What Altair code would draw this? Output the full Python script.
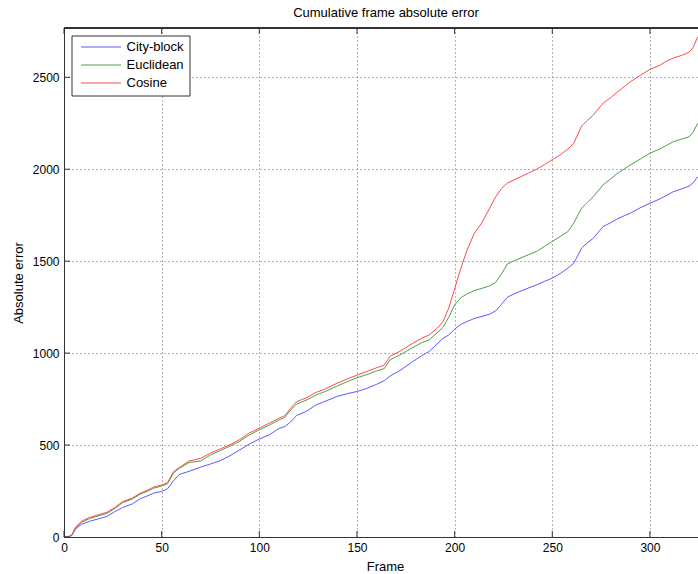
import altair as alt
import pandas as pd

# Frame indices at which the cumulative errors were sampled
frames = [0, 2, 4, 6, 9, 13, 18, 22, 26, 30, 35, 39, 43, 46, 50, 53, 56, 59, 64, 70,
          75, 80, 85, 90, 95, 100, 105, 110, 113, 116, 119, 124, 129, 133, 140, 146, 150,
          155, 160, 164, 167, 172, 178, 183, 187, 191, 194, 197, 200, 203, 206, 210, 214,
          218, 221, 224, 227, 230, 234, 238, 242, 246, 250, 254, 258, 261, 265, 268, 271,
          276, 280, 283, 287, 290, 295, 300, 305, 308, 312, 316, 320, 322, 324.5]

city_block = [0, 0, 8, 45, 70, 85, 100, 112, 138, 160, 180, 208, 225, 239, 248, 262, 305, 340,
              357, 380, 397, 415, 442, 474, 506, 533, 555, 590, 600, 625, 660, 683, 718, 735,
              765, 782, 791, 808, 830, 850, 876, 905, 950, 985, 1009, 1050, 1080, 1099, 1130,
              1155, 1170, 1188, 1200, 1212, 1230, 1265, 1304, 1320, 1338, 1355, 1371, 1390,
              1408, 1432, 1462, 1489, 1571, 1600, 1625, 1688, 1710, 1728, 1748, 1761, 1790,
              1815, 1838, 1855, 1878, 1892, 1908, 1925, 1960]

euclidean = [0, 0, 10, 50, 80, 100, 116, 128, 155, 187, 207, 233, 250, 266, 277, 289, 347, 373,
             405, 414, 446, 470, 494, 521, 556, 583, 608, 636, 650, 690, 722, 744, 772, 788,
             822, 849, 866, 883, 903, 916, 964, 990, 1027, 1056, 1072, 1110, 1140, 1195, 1262,
             1300, 1320, 1340, 1352, 1366, 1385, 1430, 1485, 1500, 1518, 1536, 1553, 1580,
             1607, 1634, 1661, 1707, 1788, 1820, 1851, 1915, 1948, 1975, 2003, 2023, 2055,
             2087, 2110, 2127, 2150, 2163, 2176, 2200, 2250]

cosine = [0, 0, 12, 55, 86, 106, 122, 135, 160, 192, 212, 238, 256, 272, 283, 295, 355, 378,
          413, 428, 456, 479, 502, 530, 566, 592, 618, 645, 660, 700, 735, 757, 786, 802, 837,
          864, 880, 900, 920, 935, 983, 1010, 1050, 1080, 1099, 1135, 1170, 1245, 1350, 1455,
          1550, 1650, 1710, 1790, 1850, 1895, 1925, 1940, 1960, 1980, 2000, 2025, 2052, 2078,
          2109, 2141, 2235, 2265, 2295, 2359, 2390, 2417, 2450, 2476, 2510, 2543, 2565, 2585,
          2605, 2618, 2636, 2660, 2721]

series_names = ["City-block", "Euclidean", "Cosine"]
series_colors = ["#5a5aff", "#4aa04a", "#ff4a4a"]

x_ticks = [0, 50, 100, 150, 200, 250, 300]
y_ticks = [0, 500, 1000, 1500, 2000, 2500]

X_MAX = 324.6
Y_MAX = 2768
W, H = 634, 509

rows = []
for name, vals in zip(series_names, [city_block, euclidean, cosine]):
    for f, v in zip(frames, vals):
        rows.append({"Frame": f, "Absolute error": v, "Distance": name})
df = pd.DataFrame(rows)

x_scale = alt.Scale(domain=[0, X_MAX], nice=False, zero=False)
y_scale = alt.Scale(domain=[0, Y_MAX], nice=False, zero=False)

x_axis = alt.Axis(values=x_ticks, grid=True, gridDash=[1, 3], gridColor="#666666",
                  gridOpacity=1, ticks=False, domainColor="#333333", labelFontSize=12,
                  labelColor="black", labelPadding=5, title="Frame", titleFontSize=13,
                  titleFontWeight="normal", titleColor="black", titleX=321, titleY=29,
                  titleBaseline="middle", labelFlush=False, format="d")
y_axis = alt.Axis(values=y_ticks, grid=True, gridDash=[1, 3], gridColor="#666666",
                  gridOpacity=1, ticks=False, domainColor="#333333", labelFontSize=12,
                  labelColor="black", labelPadding=5, title="Absolute error",
                  titleFontSize=13, titleFontWeight="normal", titleColor="black",
                  titleX=-46, titleY=H / 2, titleAngle=270, titleBaseline="middle",
                  format="d")

# Legend swatch: a 40 px horizontal stroke (custom path scaled by sqrt(size)/2)
legend = alt.Legend(title=None, orient="none", legendX=7.5, legendY=7.5,
                    symbolType="M-0.5,0H9.5", symbolSize=64, symbolStrokeWidth=1,
                    symbolFillColor="transparent", labelFontSize=13, labelColor="black",
                    fillColor="white", strokeColor="#333333", padding=5, rowPadding=4,
                    labelOffset=37)

lines = alt.Chart(df).mark_line(strokeWidth=1, clip=True).encode(
    x=alt.X("Frame:Q", scale=x_scale, axis=x_axis),
    y=alt.Y("Absolute error:Q", scale=y_scale, axis=y_axis),
    color=alt.Color("Distance:N", sort=series_names,
                    scale=alt.Scale(domain=series_names, range=series_colors),
                    legend=legend),
    order=alt.Order("Frame:Q"),
)

# Inward tick marks on the bottom, top and left edges, plus the top frame line
xt = pd.DataFrame({"Frame": x_ticks})
yt = pd.DataFrame({"Absolute error": y_ticks})
tick_color = "#333333"
bottom_ticks = alt.Chart(xt).mark_rule(color=tick_color).encode(
    x="Frame:Q", y=alt.value(H), y2=alt.value(H - 6))
top_ticks = alt.Chart(xt).mark_rule(color=tick_color).encode(
    x="Frame:Q", y=alt.value(0), y2=alt.value(6))
left_ticks = alt.Chart(yt).mark_rule(color=tick_color).encode(
    y="Absolute error:Q", x=alt.value(0), x2=alt.value(6))
top_frame = alt.Chart(xt).mark_rule(color=tick_color).encode(
    x=alt.value(0), x2=alt.value(W), y=alt.value(0))

chart = alt.layer(lines, bottom_ticks, top_ticks, left_ticks, top_frame).properties(
    width=W, height=H,
    autosize=alt.AutoSizeParams(type="none"),
    padding={"left": 64, "top": 28, "right": 0, "bottom": 37},
    background="white",
    title=alt.TitleParams("Cumulative frame absolute error", fontSize=13,
                          fontWeight="normal", color="black", dx=5, offset=8),
).configure(font="Liberation Sans").configure_view(stroke=None)

chart.save("out.html", embed_options={"renderer": "svg", "actions": False})
